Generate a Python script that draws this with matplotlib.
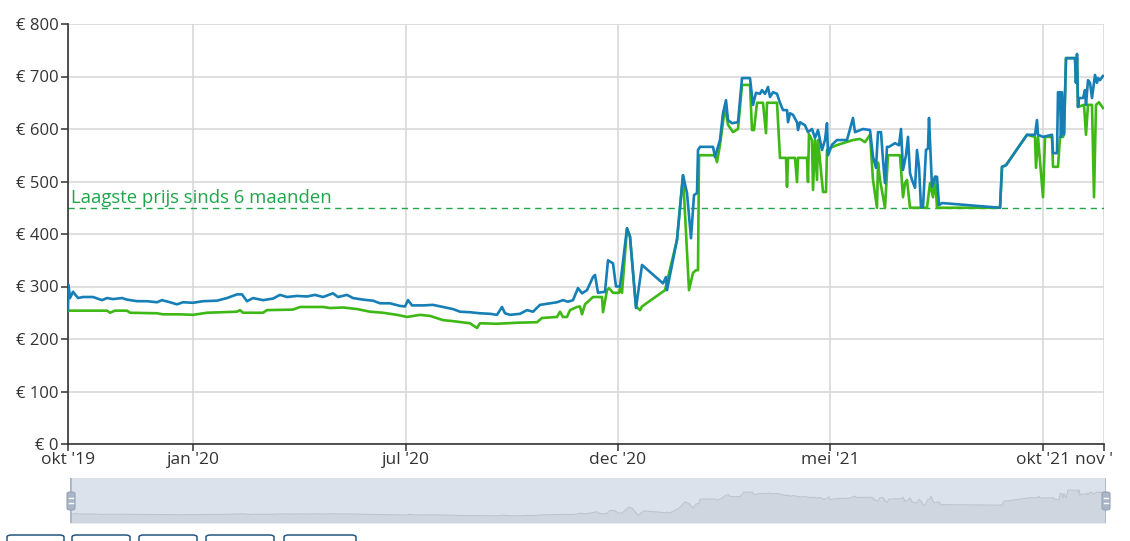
import numpy as np
import matplotlib
matplotlib.use("Agg")
import matplotlib.pyplot as plt
from matplotlib.patches import Rectangle, FancyBboxPatch

plt.rcParams['font.family'] = ['Open Sans', 'DejaVu Sans']

# x positions are ordinal offsets along the time axis
tick_pos = [0, 125, 338, 550, 762, 975, 1036]
tick_labels = ["okt '19", "jan '20", "jul '20", "dec '20", "mei '21", "okt '21", "nov '21"]

blue_x = [0, 0.5, 2, 5, 10, 15, 25, 34, 39, 45, 54, 59, 69, 79, 89, 94, 102, 109, 115, 125,
          135, 149, 159, 169, 174, 179, 185, 195, 205, 212, 219, 229, 239, 247, 255, 265, 270,
          279, 285, 295, 305, 312, 322, 332, 337, 340, 344, 355, 365, 375, 385, 392, 402, 412,
          422, 429, 434, 437, 442, 452, 459, 465, 472, 482, 489, 495, 500, 505, 510, 514, 519,
          525, 527, 530, 537, 540, 545, 548, 552, 559, 562, 568, 574, 595, 598, 599, 609, 615,
          619, 623, 626, 629, 630, 632, 645, 647, 652, 655, 658, 660, 664, 670, 674, 682, 685,
          688, 692, 694, 697, 700, 702, 705, 709, 712, 715, 719, 720, 722, 725, 729, 730, 732,
          737, 740, 744, 747, 750, 754, 757, 759, 760, 764, 769, 779, 785, 787, 795, 802, 805,
          808, 810, 813, 815, 817, 819, 821, 827, 831, 833, 835, 838, 840, 842, 844, 847, 849,
          851, 853, 855, 858, 860, 861, 864, 867, 869, 871, 874, 932, 934, 938, 959, 967, 969,
          970, 975, 984, 985, 989, 990, 992, 993, 994, 996, 998, 1007, 1008, 1009, 1010, 1011,
          1015, 1017, 1018, 1020, 1022, 1024, 1027, 1029, 1030, 1032, 1035]
blue_y = [256, 303, 278, 290, 278, 280, 280, 274, 278, 276, 278, 275, 272, 272, 270, 274, 270,
          266, 270, 269, 272, 273, 278, 285, 285, 272, 278, 274, 277, 284, 280, 282, 281, 284,
          280, 287, 280, 284, 278, 275, 273, 268, 268, 263, 262, 274, 264, 264, 265, 261, 257,
          252, 251, 249, 248, 246, 261, 249, 246, 248, 255, 252, 265, 268, 270, 274, 271, 274,
          297, 287, 293, 318, 322, 288, 290, 350, 344, 300, 300, 411, 395, 259, 341, 306, 318,
          293, 389, 512, 478, 392, 474, 478, 560, 566, 566, 547, 579, 630, 655, 617, 611, 613,
          697, 697, 646, 669, 667, 674, 667, 680, 661, 670, 667, 650, 636, 636, 613, 630, 627,
          613, 598, 613, 607, 594, 600, 583, 598, 560, 579, 611, 550, 570, 579, 579, 621, 594,
          600, 598, 547, 526, 594, 594, 541, 497, 566, 566, 573, 569, 600, 522, 550, 585, 516,
          503, 488, 560, 528, 451, 451, 560, 563, 621, 490, 509, 509, 455, 459, 450, 528, 531,
          589, 589, 617, 589, 585, 589, 554, 554, 670, 670, 585, 670, 590, 735, 735, 688, 743,
          642, 659, 659, 674, 646, 693, 688, 659, 703, 688, 697, 693, 701]

green_x = [0, 39, 42, 47, 59, 62, 89, 95, 112, 125, 139, 169, 172, 175, 195, 199, 225, 232,
           255, 262, 275, 289, 302, 315, 329, 339, 352, 362, 375, 385, 402, 409, 412, 429, 449,
           469, 474, 489, 492, 495, 499, 502, 509, 512, 514, 517, 525, 534, 535, 539, 541, 545,
           551, 552, 554, 559, 562, 568, 572, 574, 597, 609, 615, 621, 625, 628, 630, 631, 647,
           649, 652, 657, 660, 665, 670, 674, 682, 684, 686, 689, 695, 698, 699, 709, 712, 718,
           719, 720, 727, 729, 730, 739, 740, 741, 744, 745, 747, 749, 750, 755, 758, 759, 762,
           770, 785, 792, 797, 802, 805, 809, 810, 812, 817, 820, 832, 835, 837, 839, 842, 859,
           862, 865, 867, 869, 932, 934, 938, 959, 967, 968, 970, 975, 977, 984, 985, 990, 992,
           995, 996, 998, 1007, 1008, 1009, 1010, 1016, 1018, 1020, 1024, 1026, 1028, 1031, 1035]
green_y = [254, 254, 250, 254, 254, 250, 249, 247, 247, 246, 250, 252, 255, 250, 250, 255, 256,
           261, 261, 259, 260, 257, 252, 250, 246, 242, 246, 244, 236, 234, 230, 221, 230, 229,
           231, 232, 240, 242, 252, 242, 242, 255, 261, 262, 247, 266, 280, 280, 251, 293, 297,
           288, 288, 297, 288, 411, 395, 262, 255, 262, 293, 389, 512, 293, 326, 331, 331, 550,
           550, 537, 570, 642, 608, 594, 600, 684, 684, 598, 598, 650, 650, 592, 650, 650, 545,
           545, 490, 545, 545, 499, 545, 545, 499, 590, 579, 484, 579, 503, 579, 480, 480, 560,
           564, 570, 579, 581, 575, 589, 503, 450, 536, 503, 450, 550, 550, 470, 497, 503, 450,
           450, 497, 470, 509, 450, 450, 528, 531, 589, 585, 526, 585, 470, 585, 585, 528, 528,
           585, 585, 590, 735, 735, 688, 735, 642, 646, 589, 646, 646, 470, 646, 651, 640]

lowest_6m = 449
lowest_label = "Laagste prijs sinds 6 maanden"
y_ticks = [0, 100, 200, 300, 400, 500, 600, 700, 800]

W, H = 1130, 541
fig = plt.figure(figsize=(W / 100, H / 100), dpi=100)

# main chart
ax = fig.add_axes([68 / W, 1 - 444 / H, 1036 / W, 420 / H])
ax.plot(green_x, green_y, color='#3db815', lw=1.9, solid_joinstyle='round', zorder=3)
ax.plot(blue_x, blue_y, color='#167fb6', lw=1.9, solid_joinstyle='round', zorder=4)
ax.axhline(lowest_6m, color='#1fa64a', lw=1.0, dashes=(4.5, 3.5), zorder=2)
ax.text(3, lowest_6m + 3, lowest_label, color='#1fa64a', fontsize=13.3, va='bottom', ha='left')

ax.set_xlim(0, 1036)
ax.set_ylim(0, 800)
ax.set_yticks(y_ticks)
ax.set_yticklabels([f"€ {v}" for v in y_ticks])
ax.set_xticks(tick_pos)
ax.set_xticklabels(tick_labels)
ax.grid(True, color='#d6d6d6', lw=1.1)
ax.set_axisbelow(True)
for s in ['top', 'right']:
    ax.spines[s].set_visible(False)
for s in ['left', 'bottom']:
    ax.spines[s].set_color('#333333')
    ax.spines[s].set_linewidth(1.2)
ax.tick_params(axis='both', colors='#333333', labelsize=12.5, length=5, width=1.1)
ax.tick_params(axis='y', pad=2, labelsize=12)
ax.tick_params(axis='x', pad=1)

# navigator
nav = fig.add_axes([70 / W, 1 - 523 / H, 1036 / W, 45 / H])
nav.set_facecolor('#dce2eb')
nav.fill_between(blue_x, 110, blue_y, color='#cfd6e0', lw=0)
nav.plot(blue_x, blue_y, color='#bcc4cf', lw=0.8)
nav.set_xlim(0, 1036)
nav.set_ylim(110, 967)
nav.set_xticks([])
nav.set_yticks([])
for s in nav.spines.values():
    s.set_visible(False)
nav.axvline(0, color='#aab6c8', lw=2)
nav.axvline(1036, color='#aab6c8', lw=2)

for hx in [71, 1106]:
    fig.add_artist(FancyBboxPatch(((hx - 4) / W, 1 - 510 / H), 8 / W, 18 / H,
                                  boxstyle='round,pad=0,rounding_size=0.003',
                                  transform=fig.transFigure, fc='#aab6c8', ec='#95a3b8', lw=0.8))
    for yy in [498, 503]:
        fig.add_artist(plt.Line2D([(hx - 2) / W, (hx + 2) / W], [1 - yy / H, 1 - yy / H],
                                  transform=fig.transFigure, color='white', lw=1))

# range buttons (cut off at the bottom edge)
for bx0, bx1 in [(7, 64), (72, 130), (139, 197), (206, 274), (284, 356)]:
    fig.add_artist(FancyBboxPatch((bx0 / W, -0.05), (bx1 - bx0) / W, (0.05 + 6 / H),
                                  boxstyle='round,pad=0,rounding_size=0.004',
                                  transform=fig.transFigure, fc='white', ec='#26557f', lw=1.1))

# clip the last x label like the original
fig.add_artist(Rectangle((1113 / W, 1 - 478 / H), 20 / W, 26 / H, transform=fig.transFigure,
                         fc='white', ec='none', zorder=10))

fig.savefig('out.png', dpi=100)
